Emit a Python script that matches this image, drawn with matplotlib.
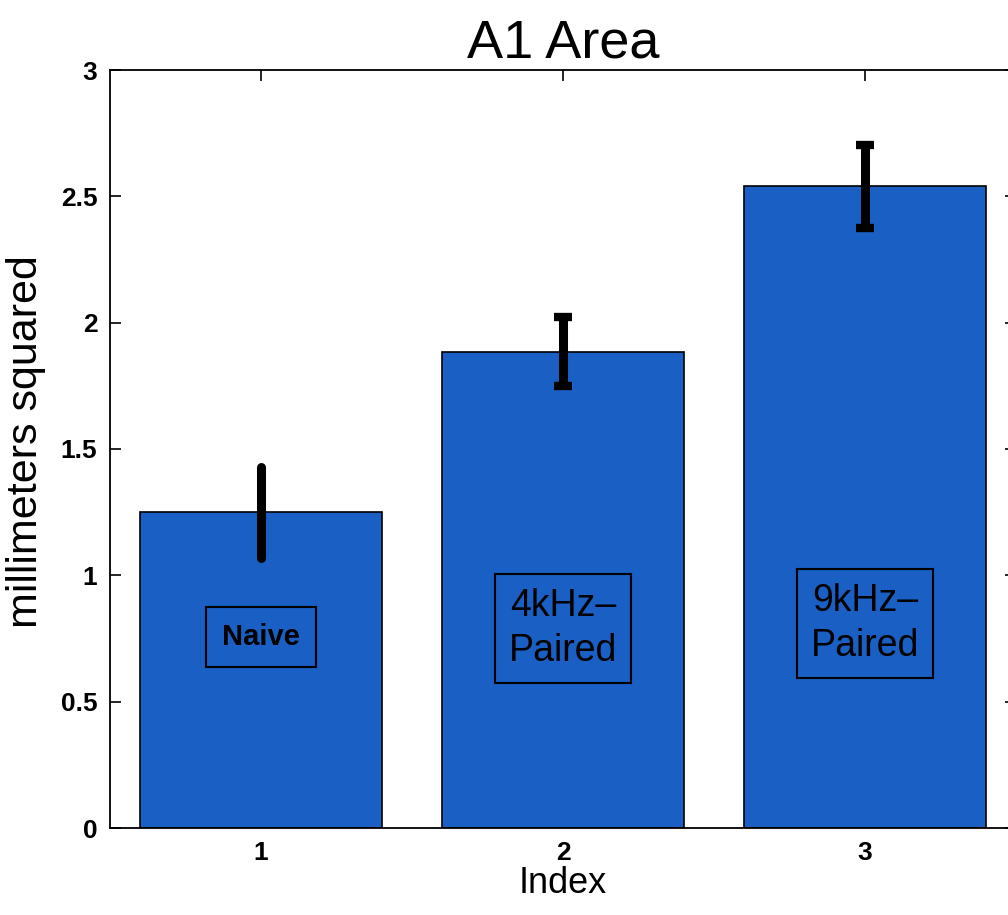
import numpy as np
import matplotlib
matplotlib.use('Agg')
import matplotlib.pyplot as plt

plt.rcParams['font.family'] = ['Liberation Sans', 'DejaVu Sans']

# data
idx = [1, 2, 3]
area = [1.25, 1.885, 2.54]
err = [0.18, 0.137, 0.165]
group_names = ['Naive', '4kHz\u2013\nPaired', '9kHz\u2013\nPaired']
label_y = [0.756, 0.79, 0.81]
yticks = [0, 0.5, 1, 1.5, 2, 2.5, 3]
ytick_labels = ['0', '0.5', '1', '1.5', '2', '2.5', '3']

fig = plt.figure(figsize=(10.08, 9.15), dpi=100)
ax = fig.add_axes([110/1008, 87/915, 906/1008, 758/915])

ax.bar(idx, area, width=0.8, color='#1a5fc4', edgecolor='black', linewidth=1.2, zorder=2)

# first error bar has no visible caps, the others do
for i in range(len(idx)):
    cs = 0 if i == 0 else 6.5
    eb = ax.errorbar(idx[i], area[i], yerr=err[i], fmt='none', ecolor='black',
                     elinewidth=6.5, capsize=cs, capthick=6, zorder=3)
    if i == 0:
        for lc in eb[2]:
            lc.set_capstyle('round')

for i in range(len(idx)):
    wt = 'bold' if i == 0 else 'normal'
    fs = 21 if i == 0 else 27
    pad = 0.55 if i == 0 else 0.38
    ax.text(idx[i], label_y[i], group_names[i], ha='center', va='center',
            fontsize=fs, fontweight=wt, linespacing=1.3, zorder=4,
            bbox=dict(boxstyle='square,pad=%s' % pad, facecolor='none',
                      edgecolor='black', linewidth=1.5))

ax.set_xlim(0.5, 3.5)
ax.set_ylim(0, 3)
ax.set_xticks(idx)
ax.set_xticklabels(['1', '2', '3'], fontsize=19, fontweight='bold')
ax.set_yticks(yticks)
ax.set_yticklabels(ytick_labels, fontsize=19, fontweight='bold')
ax.tick_params(direction='in', length=8, width=1.2, top=True, right=True, pad=9)
for s in ax.spines.values():
    s.set_linewidth(1.3)

ax.set_title('A1 Area', fontsize=39, pad=9)
ax.set_xlabel('Index', fontsize=26, labelpad=1)
ax.set_ylabel('millimeters squared', fontsize=31)
ax.yaxis.set_label_coords(-0.071, 0.51)

fig.savefig('out.png', dpi=100)
